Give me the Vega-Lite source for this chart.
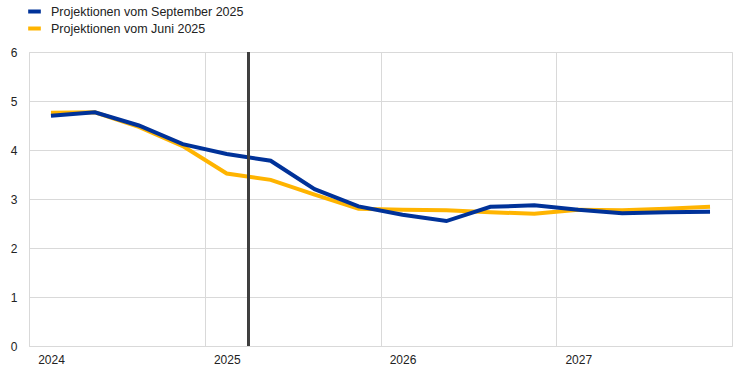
{
  "$schema": "https://vega.github.io/schema/vega-lite/v6.json",
  "width": 703,
  "height": 294,
  "autosize": {"type": "none"},
  "padding": {"left": 29, "top": 52, "right": 12, "bottom": 30},
  "background": "white",
  "config": {
    "font": "Liberation Sans",
    "view": {"stroke": "#d9d9d9", "strokeWidth": 1},
    "axis": {"labelFont": "Liberation Sans", "labelFontSize": 12, "labelColor": "#222222", "gridColor": "#d9d9d9", "gridWidth": 1, "domain": false, "ticks": false, "title": null}
  },
  "data": {
    "values": [
      {"t": 2024.125, "v": 4.76, "s": "Projektionen vom Juni 2025"},
      {"t": 2024.375, "v": 4.77, "s": "Projektionen vom Juni 2025"},
      {"t": 2024.625, "v": 4.47, "s": "Projektionen vom Juni 2025"},
      {"t": 2024.875, "v": 4.08, "s": "Projektionen vom Juni 2025"},
      {"t": 2025.125, "v": 3.52, "s": "Projektionen vom Juni 2025"},
      {"t": 2025.375, "v": 3.39, "s": "Projektionen vom Juni 2025"},
      {"t": 2025.625, "v": 3.09, "s": "Projektionen vom Juni 2025"},
      {"t": 2025.875, "v": 2.8, "s": "Projektionen vom Juni 2025"},
      {"t": 2026.125, "v": 2.78, "s": "Projektionen vom Juni 2025"},
      {"t": 2026.375, "v": 2.77, "s": "Projektionen vom Juni 2025"},
      {"t": 2026.625, "v": 2.73, "s": "Projektionen vom Juni 2025"},
      {"t": 2026.875, "v": 2.7, "s": "Projektionen vom Juni 2025"},
      {"t": 2027.125, "v": 2.78, "s": "Projektionen vom Juni 2025"},
      {"t": 2027.375, "v": 2.77, "s": "Projektionen vom Juni 2025"},
      {"t": 2027.625, "v": 2.8, "s": "Projektionen vom Juni 2025"},
      {"t": 2027.875, "v": 2.84, "s": "Projektionen vom Juni 2025"},
      {"t": 2024.125, "v": 4.7, "s": "Projektionen vom September 2025"},
      {"t": 2024.375, "v": 4.77, "s": "Projektionen vom September 2025"},
      {"t": 2024.625, "v": 4.5, "s": "Projektionen vom September 2025"},
      {"t": 2024.875, "v": 4.12, "s": "Projektionen vom September 2025"},
      {"t": 2025.125, "v": 3.92, "s": "Projektionen vom September 2025"},
      {"t": 2025.375, "v": 3.78, "s": "Projektionen vom September 2025"},
      {"t": 2025.625, "v": 3.2, "s": "Projektionen vom September 2025"},
      {"t": 2025.875, "v": 2.85, "s": "Projektionen vom September 2025"},
      {"t": 2026.125, "v": 2.68, "s": "Projektionen vom September 2025"},
      {"t": 2026.375, "v": 2.55, "s": "Projektionen vom September 2025"},
      {"t": 2026.625, "v": 2.84, "s": "Projektionen vom September 2025"},
      {"t": 2026.875, "v": 2.87, "s": "Projektionen vom September 2025"},
      {"t": 2027.125, "v": 2.78, "s": "Projektionen vom September 2025"},
      {"t": 2027.375, "v": 2.71, "s": "Projektionen vom September 2025"},
      {"t": 2027.625, "v": 2.73, "s": "Projektionen vom September 2025"},
      {"t": 2027.875, "v": 2.74, "s": "Projektionen vom September 2025"}
    ]
  },
  "layer": [
    {
      "mark": {"type": "line", "strokeWidth": 4, "strokeJoin": "miter", "strokeCap": "butt"},
      "encoding": {
        "x": {"field": "t", "type": "quantitative", "scale": {"domain": [2024, 2028], "nice": false, "zero": false},
              "axis": {"values": [2024, 2025, 2026, 2027], "format": "d", "labelOffset": 22, "labelPadding": 8, "labelFlush": false}},
        "y": {"field": "v", "type": "quantitative", "scale": {"domain": [0, 6], "nice": false},
              "axis": {"values": [0, 1, 2, 3, 4, 5, 6], "labelPadding": 12}},
        "color": {"field": "s", "type": "nominal",
                  "scale": {"domain": ["Projektionen vom September 2025", "Projektionen vom Juni 2025"], "range": ["#003299", "#ffb400"]},
                  "legend": {"title": null, "orient": "none", "legendX": -3, "legendY": -49, "symbolType": "stroke", "symbolStrokeWidth": 4, "symbolSize": 160, "labelFontSize": 12.5, "labelLimit": 0, "labelColor": "#222222", "labelFont": "Liberation Sans", "rowPadding": 0, "padding": 0, "labelOffset": 8}}
      }
    },
    {
      "mark": {"type": "rule", "color": "#404040", "strokeWidth": 1.6},
      "encoding": {"x": {"datum": 2025.25}}
    }
  ]
}
